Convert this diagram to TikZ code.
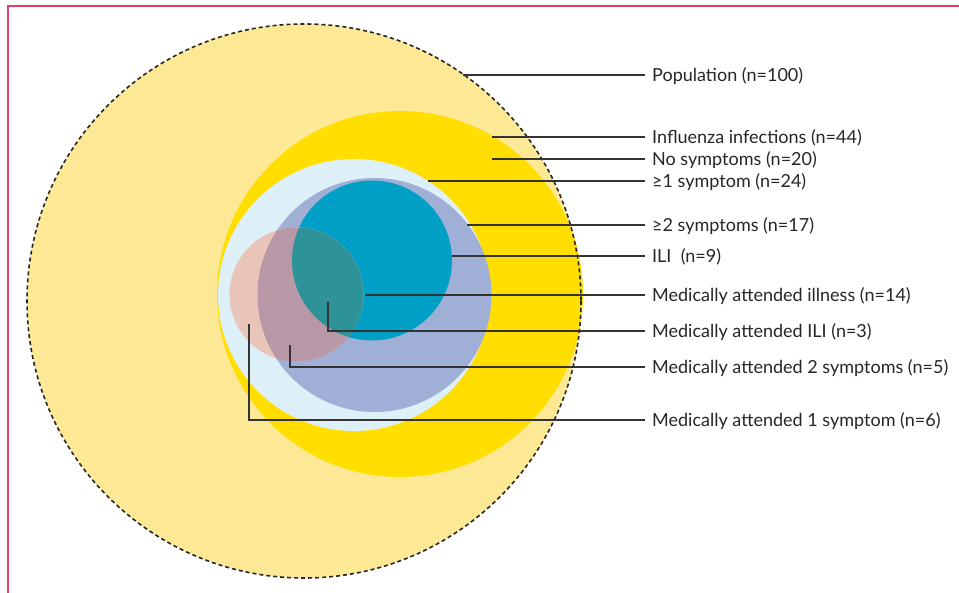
\documentclass[tikz,border=0pt]{standalone}
\usepackage{fontspec}
\setmainfont{Lato}
\begin{document}
\begin{tikzpicture}[x=1pt,y=-1pt,
  leader/.style={draw=black!80, line width=1.4pt},
  lbl/.style={anchor=base west, inner sep=0pt, font=\fontsize{18}{21}\selectfont, text=black!85}]
\definecolor{popc}{HTML}{FDE995}
\definecolor{inflc}{HTML}{FFDE00}
\definecolor{symc}{HTML}{DDEFF7}
\definecolor{sym2c}{HTML}{A0AFD6}
\definecolor{ilic}{HTML}{00A0C6}
\definecolor{medc}{HTML}{E8C5B8}
\definecolor{medsym2c}{HTML}{B898A6}
\definecolor{medilic}{HTML}{2E9398}
\definecolor{framec}{HTML}{E0406A}
\useasboundingbox (0,0) rectangle (959,593);
% frame
\draw[framec, line width=1.2pt] (8,593) -- (8,6) -- (959,6);
% circles
\fill[popc] (304,301) circle (277);
\fill[inflc] (400,294) circle (183);
\fill[symc] (354,295) circle (136);
\fill[sym2c] (374.5,295) circle (117);
\fill[ilic] (372,260.5) circle (80);
\fill[medc] (296.5,294.5) circle (67);
\begin{scope}
  \clip (296.5,294.5) circle (67);
  \fill[medsym2c] (374.5,295) circle (117);
  \fill[medilic] (372,260.5) circle (80);
\end{scope}
\draw[black!85, line width=1.6pt, dash pattern=on 4pt off 3pt] (304,301) circle (277);
% labels
\node[lbl] (pop) at (652,82) {Population (n=100)};
\node[lbl] (infl) at (652,144) {Influenza infections (n=44)};
\node[lbl] (nosym) at (652,166) {No symptoms (n=20)};
\node[lbl] (sym1) at (652,188) {≥1 symptom (n=24)};
\node[lbl] (sym2) at (652,232) {≥2 symptoms (n=17)};
\node[lbl] (ili) at (652,263) {ILI\ \ (n=9)};
\node[lbl] (mai) at (652,302) {Medically attended illness (n=14)};
\node[lbl] (maili) at (652,338) {Medically attended ILI (n=3)};
\node[lbl] (ma2) at (652,374) {Medically attended 2 symptoms (n=5)};
\node[lbl] (ma1) at (652,427) {Medically attended 1 symptom (n=6)};
% leader coordinates
\coordinate (cpop) at (463,75);
\coordinate (cinfl) at (492,137);
\coordinate (cnosym) at (492,159);
\coordinate (csym1) at (428,181);
\coordinate (csym2) at (467,225);
\coordinate (cili) at (452,256);
\coordinate (cmai) at (365,295);
\coordinate (cmaili) at (328,302);
\coordinate (cma2) at (290,345);
\coordinate (cma1) at (249,324);
\draw[leader] (cpop) -- ([xshift=-7pt]pop.west |- cpop);
\draw[leader] (cinfl) -- ([xshift=-7pt]infl.west |- cinfl);
\draw[leader] (cnosym) -- ([xshift=-7pt]nosym.west |- cnosym);
\draw[leader] (csym1) -- ([xshift=-7pt]sym1.west |- csym1);
\draw[leader] (csym2) -- ([xshift=-7pt]sym2.west |- csym2);
\draw[leader] (cili) -- ([xshift=-7pt]ili.west |- cili);
\draw[leader] (cmai) -- ([xshift=-7pt]mai.west |- cmai);
\draw[leader] (cmaili) |- ([xshift=-7pt,yshift=7pt]maili.base west);
\draw[leader] (cma2) |- ([xshift=-7pt,yshift=7pt]ma2.base west);
\draw[leader] (cma1) |- ([xshift=-7pt,yshift=7pt]ma1.base west);
\end{tikzpicture}
\end{document}
